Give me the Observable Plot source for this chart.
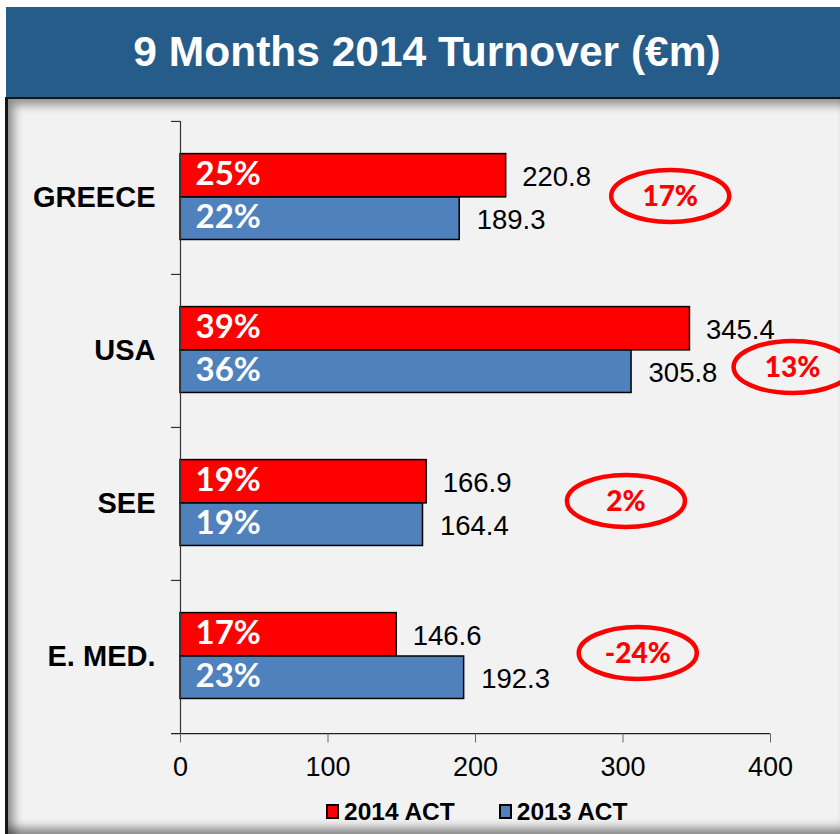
<!DOCTYPE html>
<html><head><meta charset="utf-8">
<script src="https://cdn.jsdelivr.net/npm/d3@7"></script>
<script src="https://cdn.jsdelivr.net/npm/@observablehq/plot@0.6"></script>
<style>
html,body{margin:0;padding:0;background:#fff;width:840px;height:834px;overflow:hidden;}
#banner{margin:7px 0 0 6px;height:90px;background:#265C8A;color:#fff;font:bold 42.5px "Liberation Sans",Arial,sans-serif;display:flex;align-items:center;justify-content:center;padding-left:8px;box-sizing:border-box;}
#panel{margin-left:5px;border-left:3px solid #151515;border-top:2px solid #151515;background:#f2f2f2;height:735px;box-shadow:inset 12px 12px 10px -6px rgba(0,0,0,.4), inset 0 -12px 10px -6px rgba(0,0,0,.45);}
#chart svg{display:block;}
#legend{height:45px;display:flex;align-items:center;padding-left:318px;font:bold 24.5px "Liberation Sans",Arial,sans-serif;color:#000;}
.item{display:flex;align-items:center;margin-right:44px;}
.sw{width:9px;height:11px;border:2px solid #000;margin-right:5px;}
</style>
</head>
<body>
<div id="banner">9 Months 2014 Turnover (€m)</div>
<div id="panel">
  <div id="chart"></div>
  <div id="legend"></div>
</div>
<script>
// ---- data ----
const categories = ["GREECE", "USA", "SEE", "E. MED."];
const turnover2014 = [220.8, 345.4, 166.9, 146.6];
const turnover2013 = [189.3, 305.8, 164.4, 192.3];
const share2014 = ["25%", "39%", "19%", "17%"];
const share2013 = ["22%", "36%", "19%", "23%"];
const growth = ["17%", "13%", "2%", "-24%"];
const xTicks = [0, 100, 200, 300, 400];
const seriesNames = ["2014 ACT", "2013 ACT"];
const seriesColors = ["#FF0000", "#4F81BD"];
// annotation (growth badge) placement: x in data units, vertical offset in px
const badgeX = [332, 415, 302, 310];
const badgeDy = [-2, 16, -3, -4];

// ---- layout ----
const W = 832, H = 690, mt = 22, mb = 55.5, ml = 172, mr = 70;
const band = (H - mt - mb) / categories.length;
const redTop = 32.6, split = 76.0, blueBottom = 118.6;
const c = band / 2;

const rows = categories.map((cat, i) => ({
  cat, v14: turnover2014[i], v13: turnover2013[i],
  s14: share2014[i], s13: share2013[i], g: growth[i], bx: badgeX[i]
}));

const ellipse = {
  draw(ctx, size) {
    const ry = Math.sqrt(size / Math.PI), rx = ry * 2.27, k = 0.5523;
    ctx.moveTo(rx, 0);
    ctx.bezierCurveTo(rx, k * ry, k * rx, ry, 0, ry);
    ctx.bezierCurveTo(-k * rx, ry, -rx, k * ry, -rx, 0);
    ctx.bezierCurveTo(-rx, -k * ry, -k * rx, -ry, 0, -ry);
    ctx.bezierCurveTo(k * rx, -ry, rx, -k * ry, rx, 0);
    ctx.closePath();
  }
};

const sans = "Liberation Sans, Arial, sans-serif";
const badgeMarks = rows.flatMap((r, i) => [
  Plot.dot([r], {x: "bx", y: "cat", dy: badgeDy[i], r: 26, symbol: ellipse,
    stroke: "#FF0000", strokeWidth: 4.5, fill: "none"}),
  Plot.text([r], {x: "bx", y: "cat", dy: badgeDy[i] + 1, text: "g", fill: "#FF0000",
    fontFamily: "Lato", fontWeight: 900, fontSize: 28})
]);

const chart = Plot.plot({
  width: W, height: H,
  marginTop: mt, marginBottom: mb, marginLeft: ml, marginRight: mr,
  style: {background: "transparent", color: "#000", overflow: "hidden"},
  x: {domain: [0, 400], label: null},
  y: {domain: categories, padding: 0, label: null},
  marks: [
    Plot.barX(rows, {y: "cat", x: "v14", fill: seriesColors[0], stroke: "#000", strokeWidth: 1.5,
      insetTop: redTop, insetBottom: band - split}),
    Plot.barX(rows, {y: "cat", x: "v13", fill: seriesColors[1], stroke: "#000", strokeWidth: 1.5,
      insetTop: split, insetBottom: band - blueBottom}),
    Plot.text(rows, {y: "cat", x: () => 0, text: "s14", textAnchor: "start", dx: 15, dy: -23.7,
      fill: "#fff", fontFamily: "Lato", fontWeight: "bold", fontSize: 33}),
    Plot.text(rows, {y: "cat", x: () => 0, text: "s13", textAnchor: "start", dx: 15, dy: 19.3,
      fill: "#fff", fontFamily: "Lato", fontWeight: "bold", fontSize: 33}),
    Plot.text(rows, {y: "cat", x: "v14", text: d => d.v14.toFixed(1), textAnchor: "start", dx: 16, dy: -20.7,
      fill: "#000", fontFamily: sans, fontSize: 27.5}),
    Plot.text(rows, {y: "cat", x: "v13", text: d => d.v13.toFixed(1), textAnchor: "start", dx: 17, dy: 22.3,
      fill: "#000", fontFamily: sans, fontSize: 27.5}),
    // axes
    Plot.ruleX([0], {stroke: "#333", strokeWidth: 1.2}),
    Plot.ruleY(categories, {y: d => d, dy: -c, x1: () => 0, x2: () => 0, insetLeft: -9, stroke: "#333", strokeWidth: 1.2}),
    Plot.ruleY([categories[categories.length - 1]], {y: d => d, dy: c, x1: () => 0, x2: () => xTicks[xTicks.length - 1],
      insetLeft: -9, stroke: "#222", strokeWidth: 1.2}),
    Plot.axisX({ticks: xTicks, tickSize: 9, tickPadding: 14, fontSize: 27, fontFamily: sans,
      stroke: "#666", fill: "#000"}),
    Plot.axisY({tickSize: 0, tickPadding: 25, fontSize: 29, fontWeight: "bold", fontFamily: sans, fill: "#000"}),
    ...badgeMarks
  ]
});
document.getElementById("chart").appendChild(chart);

const legend = document.getElementById("legend");
seriesNames.forEach((n, i) => {
  const it = document.createElement("div");
  it.className = "item";
  const sw = document.createElement("div");
  sw.className = "sw";
  sw.style.background = seriesColors[i];
  const t = document.createElement("span");
  t.textContent = n;
  it.appendChild(sw); it.appendChild(t);
  legend.appendChild(it);
});
</script>
</body></html>
